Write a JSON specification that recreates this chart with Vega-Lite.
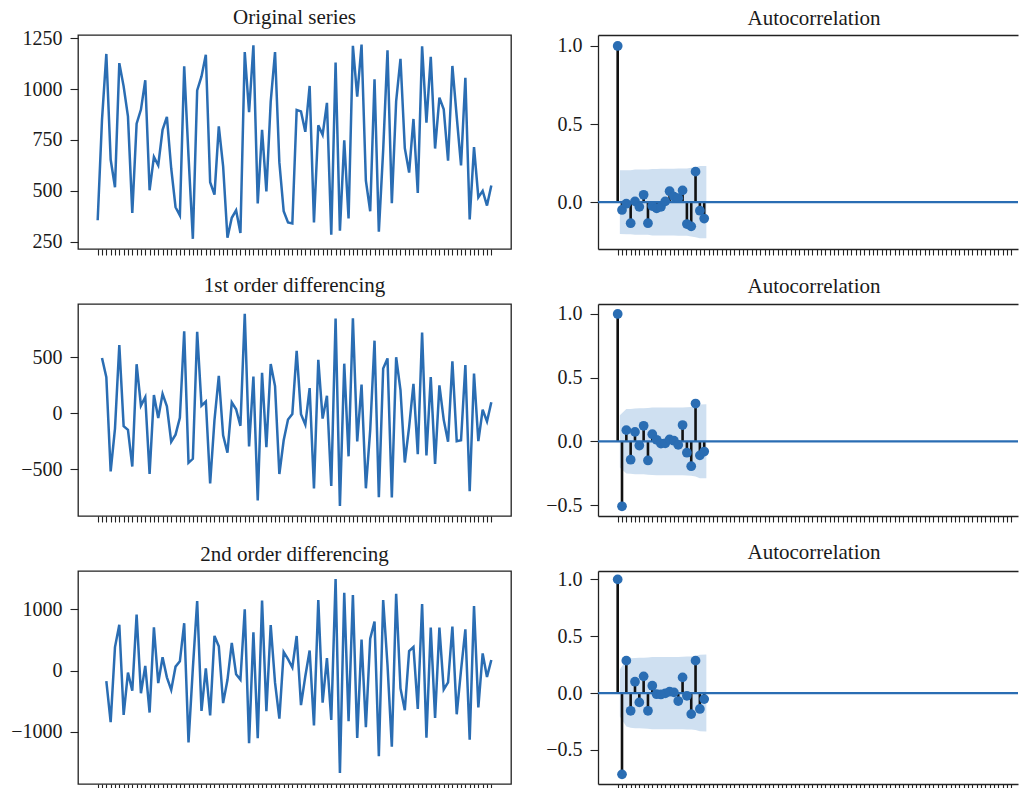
{
  "$schema": "https://vega.github.io/schema/vega-lite/v6.json",
  "background": "white",
  "padding": {"left": 10, "top": 6, "right": 0, "bottom": 0},
  "bounds": "flush",
  "columns": 2,
  "spacing": {"row": 55, "column": 87},
  "datasets": {
    "orig": [
      {"t":0,"v":356},{"t":1,"v":850},{"t":2,"v":1172},{"t":3,"v":654},{"t":4,"v":518},{"t":5,"v":1127},{"t":6,"v":1013},{"t":7,"v":866},{"t":8,"v":392},{"t":9,"v":830},
      {"t":10,"v":899},{"t":11,"v":1043},{"t":12,"v":503},{"t":13,"v":667},{"t":14,"v":626},{"t":15,"v":800},{"t":16,"v":863},{"t":17,"v":610},{"t":18,"v":420},{"t":19,"v":380},
      {"t":20,"v":1111},{"t":21,"v":670},{"t":22,"v":265},{"t":23,"v":993},{"t":24,"v":1062},{"t":25,"v":1168},{"t":26,"v":543},{"t":27,"v":482},{"t":28,"v":817},{"t":29,"v":621},
      {"t":30,"v":270},{"t":31,"v":368},{"t":32,"v":405},{"t":33,"v":294},{"t":34,"v":1181},{"t":35,"v":886},{"t":36,"v":1214},{"t":37,"v":438},{"t":38,"v":800},{"t":39,"v":498},
      {"t":40,"v":938},{"t":41,"v":1181},{"t":42,"v":640},{"t":43,"v":400},{"t":44,"v":345},{"t":45,"v":340},{"t":46,"v":897},{"t":47,"v":890},{"t":48,"v":790},{"t":49,"v":1015},
      {"t":50,"v":345},{"t":51,"v":822},{"t":52,"v":775},{"t":53,"v":932},{"t":54,"v":285},{"t":55,"v":1130},{"t":56,"v":305},{"t":57,"v":748},{"t":58,"v":365},{"t":59,"v":1212},
      {"t":60,"v":962},{"t":61,"v":1218},{"t":62,"v":550},{"t":63,"v":400},{"t":64,"v":1048},{"t":65,"v":300},{"t":66,"v":700},{"t":67,"v":1190},{"t":68,"v":440},{"t":69,"v":940},
      {"t":70,"v":1148},{"t":71,"v":710},{"t":72,"v":590},{"t":73,"v":853},{"t":74,"v":490},{"t":75,"v":1210},{"t":76,"v":835},{"t":77,"v":1158},{"t":78,"v":708},{"t":79,"v":958},
      {"t":80,"v":900},{"t":81,"v":648},{"t":82,"v":1113},{"t":83,"v":865},{"t":84,"v":625},{"t":85,"v":1055},{"t":86,"v":360},{"t":87,"v":715},{"t":88,"v":468},{"t":89,"v":500},
      {"t":90,"v":428},{"t":91,"v":527}
    ],
    "diff1": [
      {"t":1,"v":494},{"t":2,"v":322},{"t":3,"v":-518},{"t":4,"v":-136},{"t":5,"v":609},{"t":6,"v":-114},{"t":7,"v":-147},{"t":8,"v":-474},{"t":9,"v":438},
      {"t":10,"v":69},{"t":11,"v":144},{"t":12,"v":-540},{"t":13,"v":164},{"t":14,"v":-41},{"t":15,"v":174},{"t":16,"v":63},{"t":17,"v":-253},{"t":18,"v":-190},{"t":19,"v":-40},
      {"t":20,"v":731},{"t":21,"v":-441},{"t":22,"v":-405},{"t":23,"v":728},{"t":24,"v":69},{"t":25,"v":106},{"t":26,"v":-625},{"t":27,"v":-61},{"t":28,"v":335},{"t":29,"v":-196},
      {"t":30,"v":-351},{"t":31,"v":98},{"t":32,"v":37},{"t":33,"v":-111},{"t":34,"v":887},{"t":35,"v":-295},{"t":36,"v":328},{"t":37,"v":-776},{"t":38,"v":362},{"t":39,"v":-302},
      {"t":40,"v":440},{"t":41,"v":243},{"t":42,"v":-541},{"t":43,"v":-240},{"t":44,"v":-55},{"t":45,"v":-5},{"t":46,"v":557},{"t":47,"v":-7},{"t":48,"v":-100},{"t":49,"v":225},
      {"t":50,"v":-670},{"t":51,"v":477},{"t":52,"v":-47},{"t":53,"v":157},{"t":54,"v":-647},{"t":55,"v":845},{"t":56,"v":-825},{"t":57,"v":443},{"t":58,"v":-383},{"t":59,"v":847},
      {"t":60,"v":-250},{"t":61,"v":256},{"t":62,"v":-668},{"t":63,"v":-150},{"t":64,"v":648},{"t":65,"v":-748},{"t":66,"v":400},{"t":67,"v":490},{"t":68,"v":-750},{"t":69,"v":500},
      {"t":70,"v":208},{"t":71,"v":-438},{"t":72,"v":-120},{"t":73,"v":263},{"t":74,"v":-363},{"t":75,"v":720},{"t":76,"v":-375},{"t":77,"v":323},{"t":78,"v":-450},{"t":79,"v":250},
      {"t":80,"v":-58},{"t":81,"v":-252},{"t":82,"v":465},{"t":83,"v":-248},{"t":84,"v":-240},{"t":85,"v":430},{"t":86,"v":-695},{"t":87,"v":355},{"t":88,"v":-247},{"t":89,"v":32},
      {"t":90,"v":-72},{"t":91,"v":99}
    ],
    "diff2": [
      {"t":2,"v":-172},{"t":3,"v":-840},{"t":4,"v":382},{"t":5,"v":745},{"t":6,"v":-723},{"t":7,"v":-33},{"t":8,"v":-327},{"t":9,"v":912},
      {"t":10,"v":-369},{"t":11,"v":75},{"t":12,"v":-684},{"t":13,"v":704},{"t":14,"v":-205},{"t":15,"v":215},{"t":16,"v":-111},{"t":17,"v":-316},{"t":18,"v":63},{"t":19,"v":150},
      {"t":20,"v":771},{"t":21,"v":-1172},{"t":22,"v":36},{"t":23,"v":1133},{"t":24,"v":-659},{"t":25,"v":37},{"t":26,"v":-731},{"t":27,"v":564},{"t":28,"v":396},{"t":29,"v":-531},
      {"t":30,"v":-155},{"t":31,"v":449},{"t":32,"v":-61},{"t":33,"v":-148},{"t":34,"v":998},{"t":35,"v":-1182},{"t":36,"v":623},{"t":37,"v":-1104},{"t":38,"v":1138},{"t":39,"v":-664},
      {"t":40,"v":742},{"t":41,"v":-197},{"t":42,"v":-784},{"t":43,"v":301},{"t":44,"v":185},{"t":45,"v":50},{"t":46,"v":562},{"t":47,"v":-564},{"t":48,"v":-93},{"t":49,"v":325},
      {"t":50,"v":-895},{"t":51,"v":1147},{"t":52,"v":-524},{"t":53,"v":204},{"t":54,"v":-804},{"t":55,"v":1492},{"t":56,"v":-1670},{"t":57,"v":1268},{"t":58,"v":-826},{"t":59,"v":1230},
      {"t":60,"v":-1097},{"t":61,"v":506},{"t":62,"v":-924},{"t":63,"v":518},{"t":64,"v":798},{"t":65,"v":-1396},{"t":66,"v":1148},{"t":67,"v":90},{"t":68,"v":-1240},{"t":69,"v":1250},
      {"t":70,"v":-292},{"t":71,"v":-646},{"t":72,"v":318},{"t":73,"v":383},{"t":74,"v":-626},{"t":75,"v":1083},{"t":76,"v":-1095},{"t":77,"v":698},{"t":78,"v":-773},{"t":79,"v":700},
      {"t":80,"v":-308},{"t":81,"v":-194},{"t":82,"v":717},{"t":83,"v":-713},{"t":84,"v":8},{"t":85,"v":670},{"t":86,"v":-1125},{"t":87,"v":1050},{"t":88,"v":-602},{"t":89,"v":279},
      {"t":90,"v":-104},{"t":91,"v":171}
    ],
    "acf": [
      {"s":"o","lag":0,"r":1},{"s":"o","lag":1,"r":-0.05},{"s":"o","lag":2,"r":-0.01},{"s":"o","lag":3,"r":-0.135},{"s":"o","lag":4,"r":0.005},{"s":"o","lag":5,"r":-0.03},{"s":"o","lag":6,"r":0.047},
      {"s":"o","lag":7,"r":-0.135},{"s":"o","lag":8,"r":-0.025},{"s":"o","lag":9,"r":-0.04},{"s":"o","lag":10,"r":-0.03},{"s":"o","lag":11,"r":0.005},{"s":"o","lag":12,"r":0.07},{"s":"o","lag":13,"r":0.035},
      {"s":"o","lag":14,"r":0.025},{"s":"o","lag":15,"r":0.075},{"s":"o","lag":16,"r":-0.14},{"s":"o","lag":17,"r":-0.155},{"s":"o","lag":18,"r":0.195},{"s":"o","lag":19,"r":-0.055},{"s":"o","lag":20,"r":-0.105},
      {"s":"d1","lag":0,"r":1},{"s":"d1","lag":1,"r":-0.51},{"s":"d1","lag":2,"r":0.088},{"s":"d1","lag":3,"r":-0.144},{"s":"d1","lag":4,"r":0.074},{"s":"d1","lag":5,"r":-0.033},{"s":"d1","lag":6,"r":0.122},
      {"s":"d1","lag":7,"r":-0.15},{"s":"d1","lag":8,"r":0.056},{"s":"d1","lag":9,"r":0.012},{"s":"d1","lag":10,"r":-0.018},{"s":"d1","lag":11,"r":-0.015},{"s":"d1","lag":12,"r":0.015},{"s":"d1","lag":13,"r":0.005},
      {"s":"d1","lag":14,"r":-0.028},{"s":"d1","lag":15,"r":0.128},{"s":"d1","lag":16,"r":-0.089},{"s":"d1","lag":17,"r":-0.195},{"s":"d1","lag":18,"r":0.297},{"s":"d1","lag":19,"r":-0.11},{"s":"d1","lag":20,"r":-0.08},
      {"s":"d2","lag":0,"r":1},{"s":"d2","lag":1,"r":-0.715},{"s":"d2","lag":2,"r":0.285},{"s":"d2","lag":3,"r":-0.156},{"s":"d2","lag":4,"r":0.1},{"s":"d2","lag":5,"r":-0.082},{"s":"d2","lag":6,"r":0.147},
      {"s":"d2","lag":7,"r":-0.156},{"s":"d2","lag":8,"r":0.065},{"s":"d2","lag":9,"r":-0.01},{"s":"d2","lag":10,"r":-0.012},{"s":"d2","lag":11,"r":-0.003},{"s":"d2","lag":12,"r":0.012},{"s":"d2","lag":13,"r":0.006},
      {"s":"d2","lag":14,"r":-0.07},{"s":"d2","lag":15,"r":0.138},{"s":"d2","lag":16,"r":-0.024},{"s":"d2","lag":17,"r":-0.185},{"s":"d2","lag":18,"r":0.285},{"s":"d2","lag":19,"r":-0.14},{"s":"d2","lag":20,"r":-0.053}
    ],
    "band": [
      {"s":"o","x":0.5,"lo":-0.2043,"hi":0.2043},{"s":"o","x":2,"lo":-0.2049,"hi":0.2049},{"s":"o","x":3,"lo":-0.2049,"hi":0.2049},{"s":"o","x":4,"lo":-0.2086,"hi":0.2086},{"s":"o","x":5,"lo":-0.2086,"hi":0.2086},
      {"s":"o","x":6,"lo":-0.2087,"hi":0.2087},{"s":"o","x":7,"lo":-0.2092,"hi":0.2092},{"s":"o","x":8,"lo":-0.2128,"hi":0.2128},{"s":"o","x":9,"lo":-0.2129,"hi":0.2129},{"s":"o","x":10,"lo":-0.2132,"hi":0.2132},
      {"s":"o","x":11,"lo":-0.2134,"hi":0.2134},{"s":"o","x":12,"lo":-0.2134,"hi":0.2134},{"s":"o","x":13,"lo":-0.2143,"hi":0.2143},{"s":"o","x":14,"lo":-0.2146,"hi":0.2146},{"s":"o","x":15,"lo":-0.2147,"hi":0.2147},
      {"s":"o","x":16,"lo":-0.2158,"hi":0.2158},{"s":"o","x":17,"lo":-0.2195,"hi":0.2195},{"s":"o","x":18,"lo":-0.2241,"hi":0.2241},{"s":"o","x":19,"lo":-0.231,"hi":0.231},{"s":"o","x":20.5,"lo":-0.2316,"hi":0.2316},
      {"s":"d1","x":0.5,"lo":-0.2055,"hi":0.2055},{"s":"d1","x":2,"lo":-0.2533,"hi":0.2533},{"s":"d1","x":3,"lo":-0.2546,"hi":0.2546},{"s":"d1","x":4,"lo":-0.258,"hi":0.258},{"s":"d1","x":5,"lo":-0.2589,"hi":0.2589},
      {"s":"d1","x":6,"lo":-0.2591,"hi":0.2591},{"s":"d1","x":7,"lo":-0.2615,"hi":0.2615},{"s":"d1","x":8,"lo":-0.2651,"hi":0.2651},{"s":"d1","x":9,"lo":-0.2656,"hi":0.2656},{"s":"d1","x":10,"lo":-0.2656,"hi":0.2656},
      {"s":"d1","x":11,"lo":-0.2657,"hi":0.2657},{"s":"d1","x":12,"lo":-0.2657,"hi":0.2657},{"s":"d1","x":13,"lo":-0.2657,"hi":0.2657},{"s":"d1","x":14,"lo":-0.2657,"hi":0.2657},{"s":"d1","x":15,"lo":-0.2659,"hi":0.2659},
      {"s":"d1","x":16,"lo":-0.2685,"hi":0.2685},{"s":"d1","x":17,"lo":-0.2697,"hi":0.2697},{"s":"d1","x":18,"lo":-0.2756,"hi":0.2756},{"s":"d1","x":19,"lo":-0.2888,"hi":0.2888},{"s":"d1","x":20.5,"lo":-0.2905,"hi":0.2905},
      {"s":"d2","x":0.5,"lo":-0.2066,"hi":0.2066},{"s":"d2","x":2,"lo":-0.2938,"hi":0.2938},{"s":"d2","x":3,"lo":-0.3054,"hi":0.3054},{"s":"d2","x":4,"lo":-0.3088,"hi":0.3088},{"s":"d2","x":5,"lo":-0.3101,"hi":0.3101},
      {"s":"d2","x":6,"lo":-0.3111,"hi":0.3111},{"s":"d2","x":7,"lo":-0.314,"hi":0.314},{"s":"d2","x":8,"lo":-0.3173,"hi":0.3173},{"s":"d2","x":9,"lo":-0.3179,"hi":0.3179},{"s":"d2","x":10,"lo":-0.3179,"hi":0.3179},
      {"s":"d2","x":11,"lo":-0.3179,"hi":0.3179},{"s":"d2","x":12,"lo":-0.3179,"hi":0.3179},{"s":"d2","x":13,"lo":-0.3179,"hi":0.3179},{"s":"d2","x":14,"lo":-0.3179,"hi":0.3179},{"s":"d2","x":15,"lo":-0.3186,"hi":0.3186},
      {"s":"d2","x":16,"lo":-0.3211,"hi":0.3211},{"s":"d2","x":17,"lo":-0.3212,"hi":0.3212},{"s":"d2","x":18,"lo":-0.3257,"hi":0.3257},{"s":"d2","x":19,"lo":-0.3362,"hi":0.3362},{"s":"d2","x":20.5,"lo":-0.3386,"hi":0.3386}
    ]
  },
  "concat": [
    {
      "width": 433, "height": 214,
      "title": {"text": "Original series", "offset": 0},
      "data": {"name": "orig"},
      "mark": {"type": "line", "color": "#2a6db3", "strokeWidth": 2.5},
      "encoding": {
        "x": {"field": "t", "type": "quantitative", "scale": {"domain": [-4.55, 95.55], "nice": false, "zero": false},
              "axis": {"values": [0,1,2,3,4,5,6,7,8,9,10,11,12,13,14,15,16,17,18,19,20,21,22,23,24,25,26,27,28,29,30,31,32,33,34,35,36,37,38,39,40,41,42,43,44,45,46,47,48,49,50,51,52,53,54,55,56,57,58,59,60,61,62,63,64,65,66,67,68,69,70,71,72,73,74,75,76,77,78,79,80,81,82,83,84,85,86,87,88,89,90,91], "labels": false, "title": null, "tickSize": 6}},
        "y": {"field": "v", "type": "quantitative", "scale": {"domain": [215, 1265], "nice": false, "zero": false},
              "axis": {"values": [250, 500, 750, 1000, 1250], "format": "d", "title": null}}
      }
    },
    {
      "width": 420, "height": 214,
      "title": {"text": "Autocorrelation", "dx": 6, "offset": 6},
      "view": {"stroke": null},
      "layer": [
        {
          "data": {"name": "band"}, "transform": [{"filter": "datum.s === 'o'"}],
          "mark": {"type": "area", "color": "#cfe0f1", "opacity": 1},
          "encoding": {
            "x": {"field": "x", "type": "quantitative", "scale": {"domain": [-4.55, 92.54], "nice": false, "zero": false},
                  "axis": {"values": [0,1,2,3,4,5,6,7,8,9,10,11,12,13,14,15,16,17,18,19,20,21,22,23,24,25,26,27,28,29,30,31,32,33,34,35,36,37,38,39,40,41,42,43,44,45,46,47,48,49,50,51,52,53,54,55,56,57,58,59,60,61,62,63,64,65,66,67,68,69,70,71,72,73,74,75,76,77,78,79,80,81,82,83,84,85,86,87,88,89,90,91], "labels": false, "title": null, "tickSize": 6, "domain": true}},
            "y": {"field": "lo", "type": "quantitative", "scale": {"domain": [-0.3, 1.07], "nice": false, "zero": false},
                  "axis": {"values": [0, 0.5, 1], "format": ".1f", "title": null, "domain": true}},
            "y2": {"field": "hi"}
          }
        },
        {
          "data": {"name": "acf"}, "transform": [{"filter": "datum.s === 'o'"}],
          "mark": {"type": "rule", "color": "#111111", "strokeWidth": 2.6},
          "encoding": {
            "x": {"field": "lag", "type": "quantitative", "scale": {"domain": [-4.55, 92.54], "nice": false, "zero": false}, "axis": null},
            "y": {"field": "r", "type": "quantitative", "scale": {"domain": [-0.3, 1.07], "nice": false, "zero": false}},
            "y2": {"datum": 0}
          }
        },
        {
          "data": {"values": [{}]},
          "mark": {"type": "rule", "color": "#2a6db3", "strokeWidth": 2.2},
          "encoding": {"y": {"datum": 0, "scale": {"domain": [-0.3, 1.07], "nice": false, "zero": false}}}
        },
        {
          "data": {"name": "acf"}, "transform": [{"filter": "datum.s === 'o'"}],
          "mark": {"type": "point", "filled": true, "size": 95, "color": "#2a6db3", "opacity": 1},
          "encoding": {
            "x": {"field": "lag", "type": "quantitative", "scale": {"domain": [-4.55, 92.54], "nice": false, "zero": false},
                  "axis": {"orient": "top", "labels": false, "ticks": false, "domain": true, "title": null}},
            "y": {"field": "r", "type": "quantitative", "scale": {"domain": [-0.3, 1.07], "nice": false, "zero": false}}
          }
        }
      ],
      "resolve": {"axis": {"x": "independent"}}
    },
    {
      "width": 433, "height": 212,
      "title": {"text": "1st order differencing", "offset": 8},
      "data": {"name": "diff1"},
      "mark": {"type": "line", "color": "#2a6db3", "strokeWidth": 2.5},
      "encoding": {
        "x": {"field": "t", "type": "quantitative", "scale": {"domain": [-4.55, 95.55], "nice": false, "zero": false},
              "axis": {"values": [0,1,2,3,4,5,6,7,8,9,10,11,12,13,14,15,16,17,18,19,20,21,22,23,24,25,26,27,28,29,30,31,32,33,34,35,36,37,38,39,40,41,42,43,44,45,46,47,48,49,50,51,52,53,54,55,56,57,58,59,60,61,62,63,64,65,66,67,68,69,70,71,72,73,74,75,76,77,78,79,80,81,82,83,84,85,86,87,88,89,90,91], "labels": false, "title": null, "tickSize": 6}},
        "y": {"field": "v", "type": "quantitative", "scale": {"domain": [-915, 975], "nice": false, "zero": false},
              "axis": {"values": [-500, 0, 500], "format": "d", "title": null}}
      }
    },
    {
      "width": 420, "height": 212,
      "title": {"text": "Autocorrelation", "dx": 6, "offset": 7},
      "view": {"stroke": null},
      "layer": [
        {
          "data": {"name": "band"}, "transform": [{"filter": "datum.s === 'd1'"}],
          "mark": {"type": "area", "color": "#cfe0f1", "opacity": 1},
          "encoding": {
            "x": {"field": "x", "type": "quantitative", "scale": {"domain": [-4.55, 92.54], "nice": false, "zero": false},
                  "axis": {"values": [0,1,2,3,4,5,6,7,8,9,10,11,12,13,14,15,16,17,18,19,20,21,22,23,24,25,26,27,28,29,30,31,32,33,34,35,36,37,38,39,40,41,42,43,44,45,46,47,48,49,50,51,52,53,54,55,56,57,58,59,60,61,62,63,64,65,66,67,68,69,70,71,72,73,74,75,76,77,78,79,80,81,82,83,84,85,86,87,88,89,90,91], "labels": false, "title": null, "tickSize": 6, "domain": true}},
            "y": {"field": "lo", "type": "quantitative", "scale": {"domain": [-0.586, 1.078], "nice": false, "zero": false},
                  "axis": {"values": [-0.5, 0, 0.5, 1], "format": ".1f", "title": null, "domain": true}},
            "y2": {"field": "hi"}
          }
        },
        {
          "data": {"name": "acf"}, "transform": [{"filter": "datum.s === 'd1'"}],
          "mark": {"type": "rule", "color": "#111111", "strokeWidth": 2.6},
          "encoding": {
            "x": {"field": "lag", "type": "quantitative", "scale": {"domain": [-4.55, 92.54], "nice": false, "zero": false}, "axis": null},
            "y": {"field": "r", "type": "quantitative", "scale": {"domain": [-0.586, 1.078], "nice": false, "zero": false}},
            "y2": {"datum": 0}
          }
        },
        {
          "data": {"values": [{}]},
          "mark": {"type": "rule", "color": "#2a6db3", "strokeWidth": 2.2},
          "encoding": {"y": {"datum": 0, "scale": {"domain": [-0.586, 1.078], "nice": false, "zero": false}}}
        },
        {
          "data": {"name": "acf"}, "transform": [{"filter": "datum.s === 'd1'"}],
          "mark": {"type": "point", "filled": true, "size": 95, "color": "#2a6db3", "opacity": 1},
          "encoding": {
            "x": {"field": "lag", "type": "quantitative", "scale": {"domain": [-4.55, 92.54], "nice": false, "zero": false},
                  "axis": {"orient": "top", "labels": false, "ticks": false, "domain": true, "title": null}},
            "y": {"field": "r", "type": "quantitative", "scale": {"domain": [-0.586, 1.078], "nice": false, "zero": false}}
          }
        }
      ],
      "resolve": {"axis": {"x": "independent"}}
    },
    {
      "width": 433, "height": 213,
      "title": {"text": "2nd order differencing", "offset": 6},
      "data": {"name": "diff2"},
      "mark": {"type": "line", "color": "#2a6db3", "strokeWidth": 2.5},
      "encoding": {
        "x": {"field": "t", "type": "quantitative", "scale": {"domain": [-4.55, 95.55], "nice": false, "zero": false},
              "axis": {"values": [0,1,2,3,4,5,6,7,8,9,10,11,12,13,14,15,16,17,18,19,20,21,22,23,24,25,26,27,28,29,30,31,32,33,34,35,36,37,38,39,40,41,42,43,44,45,46,47,48,49,50,51,52,53,54,55,56,57,58,59,60,61,62,63,64,65,66,67,68,69,70,71,72,73,74,75,76,77,78,79,80,81,82,83,84,85,86,87,88,89,90,91], "labels": false, "title": null, "tickSize": 6}},
        "y": {"field": "v", "type": "quantitative", "scale": {"domain": [-1848, 1621], "nice": false, "zero": false},
              "axis": {"values": [-1000, 0, 1000], "format": "d", "title": null}}
      }
    },
    {
      "width": 420, "height": 213,
      "title": {"text": "Autocorrelation", "dx": 6, "offset": 6},
      "view": {"stroke": null},
      "layer": [
        {
          "data": {"name": "band"}, "transform": [{"filter": "datum.s === 'd2'"}],
          "mark": {"type": "area", "color": "#cfe0f1", "opacity": 1},
          "encoding": {
            "x": {"field": "x", "type": "quantitative", "scale": {"domain": [-4.55, 92.54], "nice": false, "zero": false},
                  "axis": {"values": [0,1,2,3,4,5,6,7,8,9,10,11,12,13,14,15,16,17,18,19,20,21,22,23,24,25,26,27,28,29,30,31,32,33,34,35,36,37,38,39,40,41,42,43,44,45,46,47,48,49,50,51,52,53,54,55,56,57,58,59,60,61,62,63,64,65,66,67,68,69,70,71,72,73,74,75,76,77,78,79,80,81,82,83,84,85,86,87,88,89,90,91], "labels": false, "title": null, "tickSize": 6, "domain": true}},
            "y": {"field": "lo", "type": "quantitative", "scale": {"domain": [-0.8, 1.074], "nice": false, "zero": false},
                  "axis": {"values": [-0.5, 0, 0.5, 1], "format": ".1f", "title": null, "domain": true}},
            "y2": {"field": "hi"}
          }
        },
        {
          "data": {"name": "acf"}, "transform": [{"filter": "datum.s === 'd2'"}],
          "mark": {"type": "rule", "color": "#111111", "strokeWidth": 2.6},
          "encoding": {
            "x": {"field": "lag", "type": "quantitative", "scale": {"domain": [-4.55, 92.54], "nice": false, "zero": false}, "axis": null},
            "y": {"field": "r", "type": "quantitative", "scale": {"domain": [-0.8, 1.074], "nice": false, "zero": false}},
            "y2": {"datum": 0}
          }
        },
        {
          "data": {"values": [{}]},
          "mark": {"type": "rule", "color": "#2a6db3", "strokeWidth": 2.2},
          "encoding": {"y": {"datum": 0, "scale": {"domain": [-0.8, 1.074], "nice": false, "zero": false}}}
        },
        {
          "data": {"name": "acf"}, "transform": [{"filter": "datum.s === 'd2'"}],
          "mark": {"type": "point", "filled": true, "size": 95, "color": "#2a6db3", "opacity": 1},
          "encoding": {
            "x": {"field": "lag", "type": "quantitative", "scale": {"domain": [-4.55, 92.54], "nice": false, "zero": false},
                  "axis": {"orient": "top", "labels": false, "ticks": false, "domain": true, "title": null}},
            "y": {"field": "r", "type": "quantitative", "scale": {"domain": [-0.8, 1.074], "nice": false, "zero": false}}
          }
        }
      ],
      "resolve": {"axis": {"x": "independent"}}
    }
  ],
  "config": {
    "font": "Liberation Serif",
    "view": {"stroke": "#222222", "strokeWidth": 1.3},
    "axis": {
      "labelFont": "Liberation Serif",
      "labelFontSize": 20,
      "labelColor": "#1a1a1a",
      "labelPadding": 8,
      "tickColor": "#222222",
      "tickSize": 8,
      "tickWidth": 1.1,
      "domain": false,
      "domainColor": "#222222",
      "domainWidth": 1.3,
      "grid": false
    },
    "title": {
      "font": "Liberation Serif",
      "fontSize": 21,
      "fontWeight": "normal",
      "color": "#1a1a1a",
      "frame": "group",
      "anchor": "middle"
    }
  }
}
